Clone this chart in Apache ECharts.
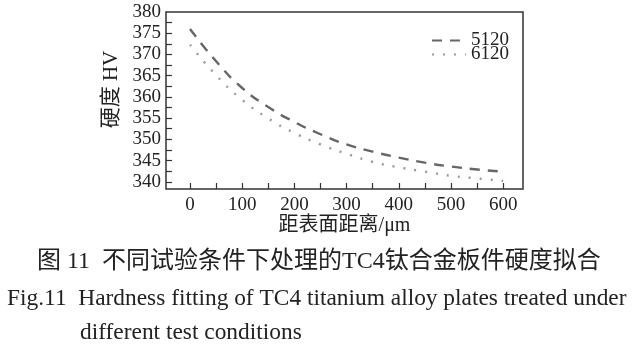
<!DOCTYPE html>
<html>
<head>
<meta charset="utf-8">
<style>html,body{margin:0;padding:0;background:#fff;}#c{width:637px;height:360px;}</style>
<script src="https://cdn.jsdelivr.net/npm/echarts@6/dist/echarts.min.js"></script>
</head>
<body>
<div id="c"></div>
<script>
var distances = [0, 50, 100, 150, 200, 250, 300, 350, 400, 450, 500, 550, 600];
var hv5120 = [376.0, 368.4, 362.1, 357.6, 354.1, 351.2, 348.8, 347.1, 345.7, 344.5, 343.6, 342.9, 342.4];
var hv6120 = [372.3, 365.1, 359.3, 354.9, 351.5, 348.8, 346.6, 344.7, 343.4, 342.4, 341.4, 340.8, 340.2];
var xTickValues = [0, 50, 100, 150, 200, 250, 300, 350, 400, 450, 500, 550, 600];
var xLabelValues = [0, 100, 200, 300, 400, 500, 600];
var yTickValues = [340, 342.5, 345, 347.5, 350, 352.5, 355, 357.5, 360, 362.5, 365, 367.5, 370, 372.5, 375, 377.5];
var yLabelValues = [340, 345, 350, 355, 360, 365, 370, 375, 380];
var seriesNames = ['5120', '6120'];

var serif = "'Liberation Serif','Noto Sans CJK SC',serif";
function pairs(ys) { return distances.map(function (d, i) { return [d, ys[i]]; }); }

var chart = echarts.init(document.getElementById('c'), null, {renderer: 'canvas'});
chart.setOption({
  animation: false,
  backgroundColor: '#fff',
  grid: {left: 166, top: 12, width: 357, height: 177, show: true, borderColor: '#333', borderWidth: 1.5, backgroundColor: 'transparent'},
  legend: {
    orient: 'vertical', left: 426, top: 26, itemWidth: 34, itemHeight: 12, itemGap: -5,
    textStyle: {fontFamily: serif, fontSize: 19, color: '#222', lineHeight: 14},
    itemStyle: {opacity: 0},
    data: seriesNames
  },
  xAxis: {
    type: 'value', min: -46, max: 638,
    name: '距表面距离/μm', nameLocation: 'middle', nameGap: 22,
    nameTextStyle: {fontFamily: serif, fontSize: 20, color: '#222'},
    axisLine: {show: false, onZero: false},
    splitLine: {show: false},
    axisTick: {show: true, inside: true, length: 6, lineStyle: {color: '#333', width: 1.2}, customValues: xTickValues},
    axisLabel: {fontFamily: serif, fontSize: 19, color: '#222', margin: 7, customValues: xLabelValues}
  },
  yAxis: {
    type: 'value', min: 338.3, max: 380,
    name: '硬度 HV', nameLocation: 'middle', nameGap: 40, nameRotate: 90,
    nameTextStyle: {fontFamily: serif, fontSize: 21, color: '#222', padding: [0, 0, 0, 22]},
    axisLine: {show: false, onZero: false},
    splitLine: {show: false},
    axisTick: {show: true, inside: true, length: 6, lineStyle: {color: '#333', width: 1.2}, customValues: yTickValues},
    axisLabel: {fontFamily: serif, fontSize: 19, color: '#222', margin: 5, customValues: yLabelValues}
  },
  series: [
    {name: seriesNames[0], type: 'line', smooth: true, symbol: 'none', data: pairs(hv5120),
     lineStyle: {color: '#666', width: 2.4, type: [10, 8]}, itemStyle: {color: '#666'}},
    {name: seriesNames[1], type: 'line', smooth: true, symbol: 'none', data: pairs(hv6120),
     lineStyle: {color: '#999', width: 2.4, type: [2, 9]}, itemStyle: {color: '#999'}}
  ],
  graphic: [
    {type: 'text', left: 37, top: 250, style: {text: '图 11  不同试验条件下处理的TC4钛合金板件硬度拟合', font: "24px 'Liberation Serif','Noto Sans CJK SC'", fill: '#222'}},
    {type: 'text', left: 7, top: 287, style: {text: 'Fig.11  Hardness fitting of TC4 titanium alloy plates treated under', font: "23.4px 'Liberation Serif'", fill: '#222'}},
    {type: 'text', left: 80, top: 321, style: {text: 'different test conditions', font: "23.4px 'Liberation Serif'", fill: '#222'}}
  ]
});
</script>
</body>
</html>
